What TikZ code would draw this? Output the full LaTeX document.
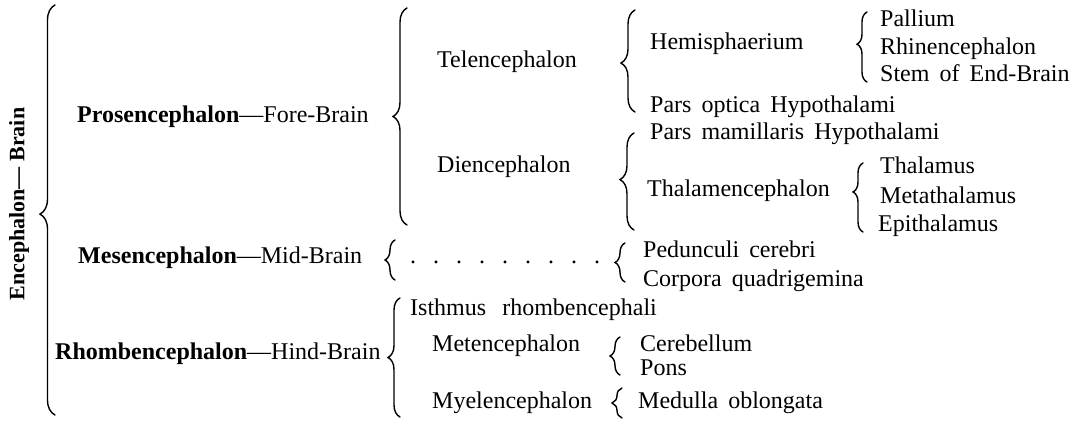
\documentclass[tikz,border=0pt]{standalone}
\usepackage{fontspec}
\setmainfont{Liberation Serif}
\usetikzlibrary{decorations.pathreplacing}
\newcommand\ws{\hspace{0.42em}}
\tikzset{
  lbl/.style={anchor=base west, inner sep=0pt, font=\fontsize{24}{28}\selectfont},
  br/.style={decorate, line width=1.4pt, line cap=round}
}
\begin{document}
\begin{tikzpicture}[x=1pt, y=-1pt]
\useasboundingbox (0,0) rectangle (1079,422);
% rotated root
\node[inner sep=0pt, rotate=90, font=\fontsize{22}{26}\selectfont\bfseries] (enc) at (19,204) {Encephalon— Brain};
% level 1
\node[lbl] (pros) at (77,123) {\textbf{Prosencephalon}—Fore-Brain};
\node[lbl] (mes) at (78,263) {\textbf{Mesencephalon}—Mid-Brain};
\node[lbl] (rho) at (55,359) {\textbf{Rhombencephalon}—Hind-Brain};
% level 2
\node[lbl] (tel) at (437,68) {Telencephalon};
\node[lbl] (die) at (437,173) {Diencephalon};
\node[lbl] (dots) at (410,263) {\makebox[190pt][s]{.\hfill.\hfill.\hfill.\hfill.\hfill.\hfill.\hfill.\hfill.}};
\node[lbl] (ist) at (410,315) {Isthmus\ws\ rhombencephali};
\node[lbl] (mete) at (432,351) {Metencephalon};
\node[lbl] (myel) at (432,408) {Myelencephalon};
% level 3
\node[lbl] (hem) at (650,50) {Hemisphaerium};
\node[lbl] (pop) at (650,113) {Pars\ws optica\ws Hypothalami};
\node[lbl] (pma) at (650,140) {Pars\ws mamillaris\ws Hypothalami};
\node[lbl] (tha) at (647,197) {Thalamencephalon};
\node[lbl] (ped) at (643,258) {Pedunculi\ws cerebri};
\node[lbl] (cor) at (643,287) {Corpora\ws quadrigemina};
\node[lbl] (cer) at (640,351) {Cerebellum};
\node[lbl] (pons) at (640,375) {Pons};
\node[lbl] (med) at (638,408) {Medulla\ws oblongata};
% level 4
\node[lbl] (pal) at (880,27) {Pallium};
\node[lbl] (rhi) at (880,55) {Rhinencephalon};
\node[lbl] (stem) at (880,82) {Stem\ws of\ws End-Brain};
\node[lbl] (thl) at (880,174) {Thalamus};
\node[lbl] (mth) at (880,204) {Metathalamus};
\node[lbl] (epi) at (878,232) {Epithalamus};
% brace end points
\coordinate (a1) at (55,415); \coordinate (a2) at (55,5);
\coordinate (b1) at (407,225); \coordinate (b2) at (407,8);
\coordinate (c1) at (635,112); \coordinate (c2) at (635,10);
\coordinate (d1) at (634,230); \coordinate (d2) at (634,133);
\coordinate (e1) at (867,82); \coordinate (e2) at (867,12);
\coordinate (f1) at (863,232); \coordinate (f2) at (863,163);
\coordinate (g1) at (395,280); \coordinate (g2) at (395,240);
\coordinate (h1) at (625,282); \coordinate (h2) at (625,243);
\coordinate (i1) at (400,417); \coordinate (i2) at (400,298);
\coordinate (j1) at (620,375); \coordinate (j2) at (620,337);
\coordinate (k1) at (622,418); \coordinate (k2) at (622,388);
% braces
\draw[br, decoration={brace, amplitude=15pt, aspect=0.49}] (a1) -- (a2);
\draw[br, decoration={brace, amplitude=14pt, aspect=0.5}] (b1) -- (b2);
\draw[br, decoration={brace, amplitude=14pt, aspect=0.48}] (c1) -- (c2);
\draw[br, decoration={brace, amplitude=14pt, aspect=0.52}] (d1) -- (d2);
\draw[br, decoration={brace, amplitude=10pt, aspect=0.54}] (e1) -- (e2);
\draw[br, decoration={brace, amplitude=10pt, aspect=0.58}] (f1) -- (f2);
\draw[br, decoration={brace, amplitude=10pt, aspect=0.5}] (g1) -- (g2);
\draw[br, decoration={brace, amplitude=10pt, aspect=0.5}] (h1) -- (h2);
\draw[br, decoration={brace, amplitude=12pt, aspect=0.5}] (i1) -- (i2);
\draw[br, decoration={brace, amplitude=10pt, aspect=0.5}] (j1) -- (j2);
\draw[br, decoration={brace, amplitude=10pt, aspect=0.5}] (k1) -- (k2);
\end{tikzpicture}
\end{document}
